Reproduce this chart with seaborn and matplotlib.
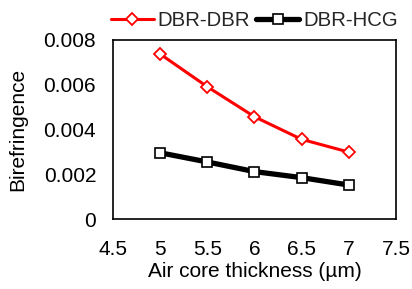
import matplotlib
matplotlib.use("Agg")
import matplotlib.pyplot as plt
import seaborn as sns
import pandas as pd

thickness = [5, 5.5, 6, 6.5, 7]
dbr_dbr = [0.00737, 0.00591, 0.00457, 0.00356, 0.00299]
dbr_hcg = [0.00296, 0.00255, 0.00212, 0.00185, 0.00152]
x_ticks = [4.5, 5, 5.5, 6, 6.5, 7, 7.5]
y_ticks = [0, 0.002, 0.004, 0.006, 0.008]
y_labels = ["0", "0.002", "0.004", "0.006", "0.008"]

sns.set_theme(style="white")
plt.rcParams['font.family'] = ['Liberation Sans', 'DejaVu Sans']

df1 = pd.DataFrame({"x": thickness, "y": dbr_dbr})
df2 = pd.DataFrame({"x": thickness, "y": dbr_hcg})

fig = plt.figure(figsize=(4.12, 2.89), dpi=100)
ax = fig.add_axes([0.274, 0.242, 0.687, 0.620])

sns.lineplot(data=df1, x="x", y="y", ax=ax, color="#ff0000", linewidth=2.2,
             marker="D", markersize=6, markerfacecolor="white",
             markeredgecolor="#ff0000", markeredgewidth=1.3, label="DBR-DBR")
sns.lineplot(data=df2, x="x", y="y", ax=ax, color="black", linewidth=3.8,
             marker="s", markersize=7, markerfacecolor="white",
             markeredgecolor="black", markeredgewidth=1.2, label="DBR-HCG")

ax.set_xlim(4.5, 7.5)
ax.set_ylim(0, 0.008)
ax.set_xticks(x_ticks)
ax.set_xticklabels([f"{v:g}" for v in x_ticks])
ax.set_yticks(y_ticks)
ax.set_yticklabels(y_labels)
ax.tick_params(axis="x", direction="in", length=5, width=1, color="black",
               labelsize=15, pad=15, labelcolor="black")
ax.tick_params(axis="y", direction="in", length=5, width=1, color="black",
               labelsize=15, pad=12, labelcolor="black")
for s in ax.spines.values():
    s.set_color("black")
    s.set_linewidth(1.2)
    s.set_visible(True)

ax.set_xlabel("Air core thickness (µm)", fontsize=15, color="black", labelpad=2)
ax.set_ylabel("Birefringence", fontsize=15, color="black", labelpad=12)

ax.legend(loc="lower center", bbox_to_anchor=(0.5, 1.0), ncol=2, frameon=False,
          fontsize=14.7, handlelength=2.1, handletextpad=0.2, columnspacing=0.3,
          borderaxespad=0.1)

fig.savefig("out.png", dpi=100)
